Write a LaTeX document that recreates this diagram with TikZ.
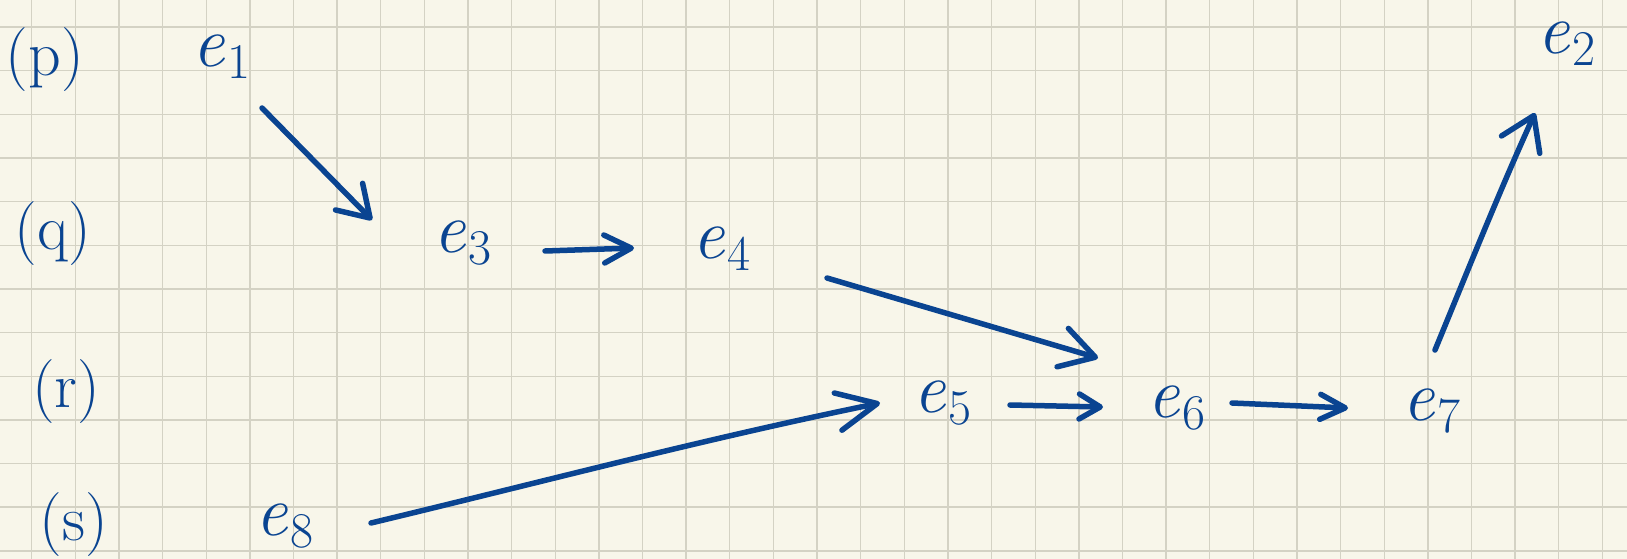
\documentclass[tikz,border=0pt]{standalone}
\usetikzlibrary{arrows.meta}
\definecolor{paper}{RGB}{248,246,234}
\definecolor{gridc}{RGB}{212,210,196}
\definecolor{ink}{RGB}{10,68,145}
\newcommand\evlabel[1]{\textit{e}\kern2pt\raisebox{-12pt}{\fontsize{50}{50}\selectfont #1}}
\begin{document}
\begin{tikzpicture}[x=1pt,y=-1pt,
  lbl/.style={text=ink,font=\fontsize{64}{70}\selectfont,inner sep=0pt},
  ev/.style={text=ink,font=\fontsize{72}{80}\selectfont,inner sep=0pt,anchor=base west},
  pen/.style={draw=ink,line width=5.5pt,line cap=round,line join=round},
  arr/.style n args={2}{pen,-{Straight Barb[round,length=#1,width=#2]}}
]
% paper and grid
\fill[paper] (0,0) rectangle (1627,559);
\useasboundingbox (0,0) rectangle (1627,559);
\foreach \k in {0,...,36}{
  \pgfmathsetmacro{\gx}{31.7+43.63*\k}
  \draw[gridc,line width=1.4pt] (\gx,0) -- (\gx,559);
}
\foreach \k in {0,...,12}{
  \pgfmathsetmacro{\gy}{27+43.65*\k}
  \draw[gridc,line width=1.4pt] (0,\gy) -- (1627,\gy);
}
% row labels
\node[lbl] (p) at (45,60) {(p)};
\node[lbl] (q) at (53,234) {(q)};
\node[lbl] (r) at (66,392) {(r)};
\node[lbl] (s) at (74,525) {(s)};
% events
\node[ev] (e1) at (192,67) {\evlabel{1}};
\node[ev] (e3) at (433,252) {\evlabel{3}};
\node[ev] (e4) at (692,258) {\evlabel{4}};
\node[ev] (e5) at (913,412) {\evlabel{5}};
\node[ev] (e6) at (1147,417) {\evlabel{6}};
\node[ev] (e7) at (1402,420) {\evlabel{7}};
\node[ev] (e8) at (255,535) {\evlabel{8}};
\node[ev] (e2) at (1537,54) {\evlabel{2}};
% connector ends
\coordinate (e1o) at (262,108);
\coordinate (e3i) at (372,220);
\coordinate (e3o) at (545,251);
\coordinate (e4i) at (634,248);
\coordinate (e4o) at (827,278);
\coordinate (e6a) at (1098,358);
\coordinate (e8o) at (371,523);
\coordinate (e5i) at (880,403);
\coordinate (e5o) at (1010,405);
\coordinate (e6i) at (1103,407);
\coordinate (e6o) at (1232,403);
\coordinate (e7i) at (1348,408);
\coordinate (e7o) at (1435,350);
\coordinate (e2i) at (1535,113);
% connectors
\draw[arr={30pt}{38pt}] (e1o) -- (e3i);
\draw[arr={27pt}{28pt}] (e3o) -- (e4i);
\draw[arr={34pt}{40pt}] (e4o) -- (e6a);
\draw[arr={40pt}{38pt}] (e8o) .. controls (550,480) and (700,440) .. (e5i);
\draw[arr={21pt}{25pt}] (e5o) -- (e6i);
\draw[arr={25pt}{25pt}] (e6o) -- (e7i);
\draw[arr={32pt}{42pt}] (e7o) .. controls (1470,265) and (1500,190) .. (e2i);
\end{tikzpicture}
\end{document}
